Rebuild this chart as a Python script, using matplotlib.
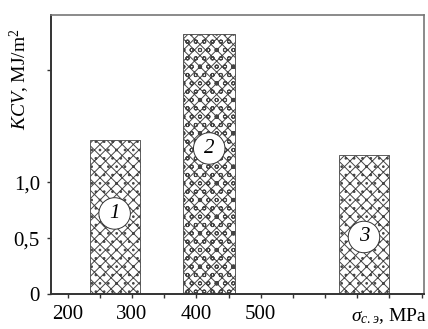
import numpy as np
import matplotlib
matplotlib.use('Agg')
import matplotlib.pyplot as plt
from matplotlib.transforms import blended_transform_factory

plt.rcParams['font.family'] = 'Liberation Serif'
plt.rcParams['mathtext.fontset'] = 'custom'
plt.rcParams['mathtext.rm'] = 'Liberation Serif'
plt.rcParams['mathtext.it'] = 'Liberation Serif:italic'
plt.rcParams['hatch.linewidth'] = 0.7

# data
stress_left = [234, 380, 621]      # MPa, left edge of each bar
stress_width = [78, 80, 79]
kcv = [1.375, 2.32, 1.24]          # MJ/m2
bar_hatch = ['xxx..', 'xxxoo', 'xxx..']
bar_names = ['1', '2', '3']
label_y = [0.72, 1.30, 0.51]

xticks = np.arange(200, 751, 50)
xtick_labels = ['200', '', '300', '', '400', '', '500', '', '', '', '', '']
yticks = [0, 0.5, 1.0, 2.0]
ytick_labels = ['0', '0,5', '1,0', '']

fig = plt.figure(figsize=(4.28, 3.29), dpi=100)
ax = fig.add_axes([0.119, 0.106, 0.872, 0.848])

for i in range(len(kcv)):
    ax.bar(stress_left[i], kcv[i], width=stress_width[i], align='edge',
           color='white', edgecolor='#444444', hatch=bar_hatch[i], lw=0.6)
    ax.text(stress_left[i] + stress_width[i] / 2, label_y[i], bar_names[i],
            ha='center', va='center', fontsize=15, style='italic',
            bbox=dict(boxstyle='circle,pad=0.3', fc='white', ec='#333333', lw=0.7))

ax.set_xlim(174, 754)
ax.set_ylim(0, 2.49)
ax.set_xticks(xticks)
ax.set_xticklabels(xtick_labels, fontsize=15)
ax.set_yticks(yticks)
ax.set_yticklabels(ytick_labels, fontsize=15)
ax.tick_params(direction='out', length=3, width=1, color='#333333', pad=5)

for s in ['left', 'bottom']:
    ax.spines[s].set_linewidth(1.4)
    ax.spines[s].set_color('#333333')
for s in ['top', 'right']:
    ax.spines[s].set_linewidth(1.2)
    ax.spines[s].set_color('#777777')

fig.text(0.046, 0.76, r'$\mathit{KCV}$, MJ/m$^2$', rotation=90,
         ha='center', va='center', fontsize=14)
tr = blended_transform_factory(ax.transData, ax.transAxes)
ax.text(700, -0.045, r'$\sigma_{с.э}$, MPa', transform=tr, ha='center', va='top',
        fontsize=14)

fig.savefig('out.png', dpi=100)
